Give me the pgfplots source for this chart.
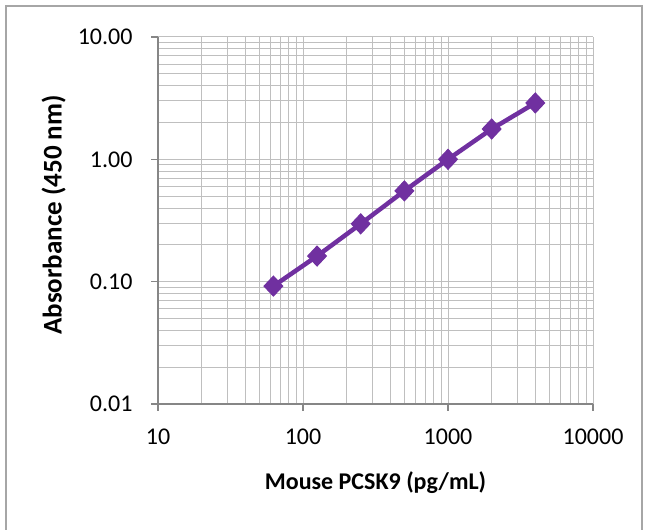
\documentclass[border=0pt]{standalone}
\usepackage{fontspec}
\setmainfont{Carlito}
\usepackage{pgfplots}
\pgfplotsset{compat=1.18}
\definecolor{linepurple}{HTML}{7030A0}
\definecolor{gridgray}{HTML}{BFBFBF}
\definecolor{axisgray}{HTML}{868686}
\definecolor{framegray}{HTML}{A6A6A6}

\begin{document}
\begin{tikzpicture}
\useasboundingbox (0,0) rectangle (646bp,530bp);
\draw[framegray, line width=1.2bp] (6bp,-5bp) rectangle (642bp,524bp);
\begin{axis}[
    at={(158bp,126bp)}, anchor=south west,
    scale only axis,
    width=435bp, height=367bp,
    xmode=log, ymode=log,
    xmin=10, xmax=10000,
    ymin=0.01, ymax=10,
    axis lines*=left,
    axis line style={axisgray, line width=1.2bp, -},
    xtick={10,100,1000,10000},
    xticklabels={10,100,1000,10000},
    ytick={0.01,0.1,1,10},
    yticklabels={0.01,0.10,1.00,10.00},
    tick align=outside,
    major tick length=7bp,
    minor tick length=0pt,
    tick style={axisgray, line width=1.2bp},
    grid=both,
    major grid style={gridgray, line width=1bp},
    minor grid style={gridgray, line width=1bp},
    tick label style={font=\fontsize{24bp}{28bp}\selectfont, black},
    xticklabel style={yshift=-14bp},
    yticklabel style={xshift=-15bp},
    xlabel={\textbf{Mouse PCSK9 (pg/mL)}},
    ylabel={\textbf{Absorbance (450 nm)}},
    xlabel style={font=\fontsize{24bp}{28bp}\selectfont,
        at={(axis description cs:0.5,-0.215)}, anchor=center},
    ylabel style={font=\fontsize{27bp}{30bp}\selectfont,
        at={(axis description cs:-0.24,0.515)}, anchor=center},
    clip=false,
]
\addplot[linepurple, line width=4.5bp, mark=diamond*, mark size=10bp,
    mark options={xscale=1.25, solid, fill=linepurple, line width=1bp}]
coordinates {
    (62.5,0.092) (125,0.162) (250,0.297) (500,0.552)
    (1000,1.0) (2000,1.77) (4000,2.89)
};
\end{axis}
\end{tikzpicture}
\end{document}
